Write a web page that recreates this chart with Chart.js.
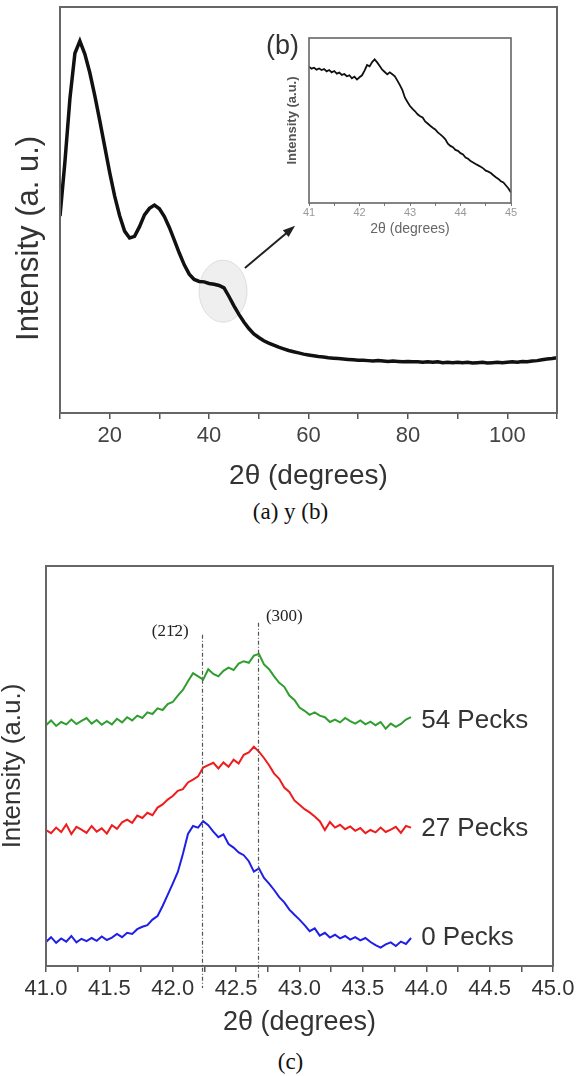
<!DOCTYPE html>
<html>
<head>
<meta charset="utf-8">
<script src="https://cdn.jsdelivr.net/npm/chart.js@4.4.1/dist/chart.umd.min.js"></script>
<style>
  html, body { margin: 0; padding: 0; background: #fff; }
  #pagina { position: relative; width: 581px; height: 1076px; overflow: hidden; }
  canvas { position: absolute; }
  .leyenda { position: absolute; left: 0; width: 581px; text-align: center;
             font-family: "Liberation Serif", "Times New Roman", serif; font-size: 23px; line-height: 24px; color: #111; }
</style>
</head>
<body>
<div id="pagina">
  <canvas id="graficoA" width="581" height="495" style="left:0;top:0"></canvas>
  <canvas id="graficoB" width="262" height="220" style="left:260px;top:25px"></canvas>
  <div style="position:absolute;left:266px;top:30px;font-family:Arial,'Liberation Sans',sans-serif;font-size:27px;line-height:30px;color:#333">(b)</div>
  <div class="leyenda" style="top:500px">(a) y (b)</div>
  <canvas id="graficoC" width="581" height="490" style="left:0;top:556px"></canvas>
  <div class="leyenda" style="top:1050px">(c)</div>
</div>
<script>
// ---- (a) difractograma completo ----
const anguloA = [10,11,12,13,14,15,16,17,18,19,20,21,22,23,24,25,26,27,28,29,30,31,32,33,34,35,36,37,38,39,40,
  41,42,43,44,45,46,47,48,49,50,51,52,53,54,55,56,57,58,59,60,61,62,63,64,65,66,67,68,69,70,
  71,72,73,74,75,76,77,78,79,80,81,82,83,84,85,86,87,88,89,90,91,92,93,94,95,96,97,98,99,100,
  101,102,103,104,105,106,107,108,109,110];
const intensidadA = [48.5,62.0,77.5,88.6,91.6,88.4,83.8,78.2,72.0,65.6,59.2,53.4,48.6,44.8,43.1,43.5,45.9,48.8,50.4,51.2,50.3,
  48.4,45.7,42.6,39.4,36.5,34.2,32.9,32.4,32.3,31.9,31.7,31.4,30.8,28.7,26.4,24.3,22.4,20.8,19.5,18.6,
  17.8,17.2,16.7,16.2,15.8,15.4,15.1,14.8,14.5,14.3,14.1,13.9,13.8,13.6,13.5,13.4,13.3,13.2,13.1,13.0,
  13.0,12.9,12.8,12.9,12.8,12.7,12.8,12.7,12.6,12.7,12.6,12.6,12.5,12.6,12.5,12.6,12.4,12.5,12.4,12.5,
  12.4,12.5,12.3,12.4,12.5,12.3,12.4,12.5,12.4,12.5,12.6,12.5,12.7,12.6,12.8,12.9,13.1,13.3,13.4,13.6];
const ticksA = [20, 40, 60, 80, 100];

// ---- (b) ampliación 41-45 ----
const anguloB = [41.00,41.05,41.10,41.15,41.20,41.25,41.30,41.35,41.40,41.45,41.50,41.55,41.60,41.65,41.70,41.75,
  41.80,41.85,41.90,41.95,42.00,42.05,42.10,42.15,42.20,42.25,42.30,42.35,42.40,42.45,42.50,42.55,
  42.60,42.65,42.70,42.75,42.80,42.85,42.90,42.95,43.00,43.05,43.10,43.15,43.20,43.25,43.30,43.35,
  43.40,43.45,43.50,43.55,43.60,43.65,43.70,43.75,43.80,43.85,43.90,43.95,44.00,44.05,44.10,44.15,
  44.20,44.25,44.30,44.35,44.40,44.45,44.50,44.55,44.60,44.65,44.70,44.75,44.80,44.85,44.90,44.95,45.00];
const intensidadB = [82.6,81.4,82.0,80.8,81.5,80.6,81.2,79.8,80.6,79.2,80.0,78.4,79.0,77.6,78.2,76.8,
  77.4,75.6,76.6,74.8,76.2,77.4,80.2,83.6,82.8,85.4,87.0,85.2,83.0,80.8,79.4,78.0,
  79.2,78.0,76.8,74.2,71.4,68.4,63.8,61.2,58.8,57.0,55.6,53.8,52.6,51.8,49.4,48.2,
  46.8,45.6,44.6,42.8,41.6,40.2,38.6,36.0,34.6,33.8,32.2,31.6,30.2,29.4,27.6,26.8,
  25.4,24.6,23.6,22.8,22.0,21.0,19.6,19.0,18.2,16.8,15.6,14.6,13.2,12.4,10.6,8.8,6.4];

// ---- (c) muestras con distinto número de picotazos ----
const anguloC = [41.00,41.04,41.08,41.12,41.16,41.20,41.24,41.28,41.32,41.36,41.40,41.44,41.48,41.52,41.56,41.60,
  41.64,41.68,41.72,41.76,41.80,41.84,41.88,41.92,41.96,42.00,42.04,42.08,42.12,42.16,42.20,42.24,
  42.28,42.32,42.36,42.40,42.44,42.48,42.52,42.56,42.60,42.64,42.68,42.72,42.76,42.80,42.84,42.88,
  42.92,42.96,43.00,43.04,43.08,43.12,43.16,43.20,43.24,43.28,43.32,43.36,43.40,43.44,43.48,43.52,
  43.56,43.60,43.64,43.68,43.72,43.76,43.80,43.84,43.88];
const pecks0 = [6.0,7.2,5.8,6.9,6.1,7.5,5.9,6.8,6.2,7.0,6.3,7.4,6.5,7.1,8.0,7.2,
  8.3,8.0,9.2,9.8,10.2,11.6,12.5,15.0,17.8,20.6,23.5,28.0,33.0,35.0,34.6,36.2,
  35.2,33.6,32.2,32.9,30.5,29.6,28.4,27.7,26.2,23.6,24.4,22.0,20.6,19.0,17.2,15.9,
  14.1,12.8,11.6,10.2,8.7,9.4,7.6,8.3,7.1,7.8,6.9,7.5,6.6,7.2,6.4,7.0,
  6.0,5.2,4.6,5.4,5.9,5.0,6.1,5.5,7.0];
const pecks27 = [34.0,33.2,34.6,33.5,35.4,33.0,34.8,34.1,33.3,35.0,33.6,34.4,33.1,35.2,34.3,35.9,
  36.6,35.8,37.6,37.0,38.3,37.7,39.6,40.4,41.6,42.5,43.8,44.2,45.9,46.6,47.4,49.6,
  50.2,50.8,49.4,50.9,49.8,51.6,50.6,52.8,53.4,54.8,53.6,52.0,50.2,48.1,46.8,44.6,
  43.5,41.4,40.3,39.2,38.4,37.4,36.2,34.0,36.0,34.6,35.3,34.2,34.9,33.8,34.5,33.2,
  34.0,33.4,34.6,33.5,34.1,34.8,33.3,35.0,34.6];
const pecks54 = [60.2,61.4,60.0,61.0,60.4,61.6,60.5,61.3,62.0,60.6,61.5,60.3,61.2,60.4,61.8,60.9,
  62.2,61.4,62.6,62.0,63.4,63.0,64.4,64.0,65.5,66.0,67.6,69.0,71.2,73.2,72.4,71.6,
  74.2,73.0,72.4,73.8,74.6,74.0,75.6,76.2,75.8,77.6,78.0,75.4,74.2,72.4,70.8,69.8,
  67.6,66.5,64.6,63.8,62.8,63.4,62.6,62.2,61.0,61.6,60.9,62.0,61.2,60.6,61.4,60.4,
  61.1,60.2,61.0,59.3,60.6,59.8,60.5,61.6,62.2];
const nombresSeries = ["0 Pecks", "27 Pecks", "54 Pecks"];
const nivelEtiqueta = [7.1, 34.3, 61.4];
const picos = [42.23, 42.67];
const picosHkl = ["(21\u03042)", "(300)"];

const FUENTE = "Arial, 'Liberation Sans', sans-serif";

// marco cerrado alrededor del área del gráfico
const marco = {
  id: "marco",
  afterDraw(chart, args, opts) {
    const { ctx, chartArea: a } = chart;
    ctx.save();
    ctx.strokeStyle = opts.color || "#666";
    ctx.lineWidth = opts.width || 2;
    ctx.strokeRect(a.left, a.top, a.right - a.left, a.bottom - a.top);
    ctx.restore();
  }
};

// elipse y flecha que señalan la zona ampliada, y el título del eje y (algo desplazado hacia abajo)
const zonaAmpliada = {
  id: "zonaAmpliada",
  beforeDatasetsDraw(chart) {
    const { ctx, scales: { x, y } } = chart;
    ctx.save();
    ctx.beginPath();
    ctx.ellipse(x.getPixelForValue(42.8), y.getPixelForValue(30), 24, 31, 0, 0, Math.PI * 2);
    ctx.fillStyle = "rgba(220,220,220,0.45)";
    ctx.fill();
    ctx.strokeStyle = "rgba(205,205,205,0.6)";
    ctx.lineWidth = 1;
    ctx.stroke();
    ctx.restore();
  },
  afterDatasetsDraw(chart) {
    const { ctx, scales: { x, y } } = chart;
    const x1 = x.getPixelForValue(47.2), y1 = y.getPixelForValue(35.7);
    const x2 = x.getPixelForValue(57.3), y2 = y.getPixelForValue(46.1);
    const ang = Math.atan2(y2 - y1, x2 - x1);
    ctx.save();
    ctx.strokeStyle = "#222";
    ctx.fillStyle = "#222";
    ctx.lineWidth = 2;
    ctx.beginPath();
    ctx.moveTo(x1, y1);
    ctx.lineTo(x2 - 8 * Math.cos(ang), y2 - 8 * Math.sin(ang));
    ctx.stroke();
    ctx.beginPath();
    ctx.moveTo(x2, y2);
    ctx.lineTo(x2 - 13 * Math.cos(ang - 0.35), y2 - 13 * Math.sin(ang - 0.35));
    ctx.lineTo(x2 - 13 * Math.cos(ang + 0.35), y2 - 13 * Math.sin(ang + 0.35));
    ctx.closePath();
    ctx.fill();
    // título del eje y
    ctx.translate(29, y.getPixelForValue(43));
    ctx.rotate(-Math.PI / 2);
    ctx.font = "31px " + FUENTE;
    ctx.fillStyle = "#333";
    ctx.textAlign = "center";
    ctx.textBaseline = "middle";
    ctx.fillText("Intensity (a. u.)", 0, 0);
    ctx.restore();
  }
};

// líneas de los picos y nombres de las series
const anotacionesC = {
  id: "anotacionesC",
  afterDraw(chart) {
    const { ctx, scales: { x, y } } = chart;
    const topes = [82.8, 85.8];
    const bases = [-5.5, -3.5];
    ctx.save();
    ctx.strokeStyle = "#555";
    ctx.lineWidth = 1.2;
    ctx.setLineDash([4, 2, 1, 2]);
    picos.forEach((p, i) => {
      const px = Math.round(x.getPixelForValue(p)) + 0.5;
      ctx.beginPath();
      ctx.moveTo(px, y.getPixelForValue(topes[i]));
      ctx.lineTo(px, y.getPixelForValue(bases[i]));
      ctx.stroke();
    });
    ctx.setLineDash([]);
    ctx.fillStyle = "#222";
    ctx.font = "17px 'Liberation Serif', 'Times New Roman', serif";
    ctx.textAlign = "center";
    ctx.textBaseline = "middle";
    ctx.fillText(picosHkl[0], x.getPixelForValue(41.98), y.getPixelForValue(83.5));
    ctx.fillText(picosHkl[1], x.getPixelForValue(42.88), y.getPixelForValue(87.3));
    ctx.fillStyle = "#333";
    ctx.font = "26px " + FUENTE;
    ctx.textAlign = "left";
    nombresSeries.forEach((n, i) => {
      ctx.fillText(n, x.getPixelForValue(43.96), y.getPixelForValue(nivelEtiqueta[i]));
    });
    ctx.restore();
  }
};

function puntos(xs, ys) {
  return xs.map((v, i) => ({ x: v, y: ys[i] }));
}

document.addEventListener("DOMContentLoaded", () => {
  // gráfico (a)
  new Chart(document.getElementById("graficoA"), {
    type: "line",
    data: {
      datasets: [{
        data: puntos(anguloA, intensidadA),
        borderColor: "#111",
        borderWidth: 3.5,
        pointRadius: 0,
        tension: 0
      }]
    },
    options: {
      responsive: false,
      animation: false,
      layout: { padding: { left: 0, right: 24, top: 7, bottom: 0 } },
      plugins: { legend: { display: false }, tooltip: { enabled: false }, marco: { color: "#666", width: 2 } },
      scales: {
        x: {
          type: "linear", min: 10, max: 110,
          afterFit: s => { s.height = 82; },
          ticks: {
            stepSize: 10, autoSkip: false, maxRotation: 0, padding: 4,
            color: "#444", font: { family: FUENTE, size: 22 },
            callback: v => (ticksA.includes(v) ? String(v) : "")
          },
          grid: { drawOnChartArea: false, tickLength: 6, color: "#555", lineWidth: 1.5 },
          border: { display: false },
          title: { display: true, text: "2θ (degrees)", color: "#333", font: { family: FUENTE, size: 28 }, padding: { top: 0, bottom: 2 } }
        },
        y: {
          min: 0, max: 100,
          afterFit: s => { s.width = 60; },
          ticks: { display: false },
          grid: { display: false },
          border: { display: false }
        }
      }
    },
    plugins: [marco, zonaAmpliada]
  });

  // recuadro (b)
  new Chart(document.getElementById("graficoB"), {
    type: "line",
    data: {
      datasets: [{
        data: puntos(anguloB, intensidadB),
        borderColor: "#111",
        borderWidth: 1.8,
        pointRadius: 0,
        tension: 0
      }]
    },
    options: {
      responsive: false,
      animation: false,
      layout: { padding: { left: 20, right: 11, top: 13, bottom: 0 } },
      plugins: { legend: { display: false }, tooltip: { enabled: false }, marco: { color: "#666", width: 1.6 } },
      scales: {
        x: {
          type: "linear", min: 41, max: 45,
          afterFit: s => { s.height = 42; },
          ticks: {
            stepSize: 0.5, autoSkip: false, maxRotation: 0, padding: 0,
            color: "#999", font: { family: FUENTE, size: 11 },
            callback: v => (Number.isInteger(v) ? String(v) : "")
          },
          grid: { drawOnChartArea: false, tickLength: 3, color: "#777", lineWidth: 1 },
          border: { display: false },
          title: { display: true, text: "2θ (degrees)", color: "#666", font: { family: FUENTE, size: 14 }, padding: { top: 0, bottom: 7 } }
        },
        y: {
          min: 0, max: 100,
          afterFit: s => { s.width = 29; },
          ticks: { display: false },
          grid: { display: false },
          border: { display: false },
          title: { display: true, text: "Intensity (a.u.)", color: "#555", font: { family: FUENTE, size: 13, weight: "bold" }, padding: { top: 5, bottom: 0 } }
        }
      }
    },
    plugins: [marco]
  });

  // gráfico (c)
  new Chart(document.getElementById("graficoC"), {
    type: "line",
    data: {
      datasets: [
        { label: nombresSeries[0], data: puntos(anguloC, pecks0), borderColor: "#1f1fe6", borderWidth: 2, pointRadius: 0, tension: 0 },
        { label: nombresSeries[1], data: puntos(anguloC, pecks27), borderColor: "#ee1c1c", borderWidth: 2, pointRadius: 0, tension: 0 },
        { label: nombresSeries[2], data: puntos(anguloC, pecks54), borderColor: "#2f9e2f", borderWidth: 2, pointRadius: 0, tension: 0 }
      ]
    },
    options: {
      responsive: false,
      animation: false,
      layout: { padding: { left: 0, right: 28, top: 10, bottom: 0 } },
      plugins: { legend: { display: false }, tooltip: { enabled: false }, marco: { color: "#666", width: 2 } },
      scales: {
        x: {
          type: "linear", min: 41, max: 45,
          afterFit: s => { s.height = 80; },
          ticks: {
            stepSize: 0.25, autoSkip: false, maxRotation: 0, padding: 4,
            color: "#333", font: { family: FUENTE, size: 22 },
            callback: v => (Math.abs(v * 2 - Math.round(v * 2)) < 1e-6 ? v.toFixed(1) : "")
          },
          grid: { drawOnChartArea: false, tickLength: 6, color: "#555", lineWidth: 1.5 },
          border: { display: false },
          title: { display: true, text: "2θ (degrees)", color: "#333", font: { family: FUENTE, size: 27 }, padding: { top: 0, bottom: 7 } }
        },
        y: {
          min: 0, max: 100,
          afterFit: s => { s.width = 46; },
          ticks: { display: false },
          grid: { display: false },
          border: { display: false },
          title: { display: true, text: "Intensity (a.u.)", color: "#333", font: { family: FUENTE, size: 26, lineHeight: 1 }, padding: { top: 0, bottom: 0 } }
        }
      }
    },
    plugins: [marco, anotacionesC]
  });
});
</script>
</body>
</html>
